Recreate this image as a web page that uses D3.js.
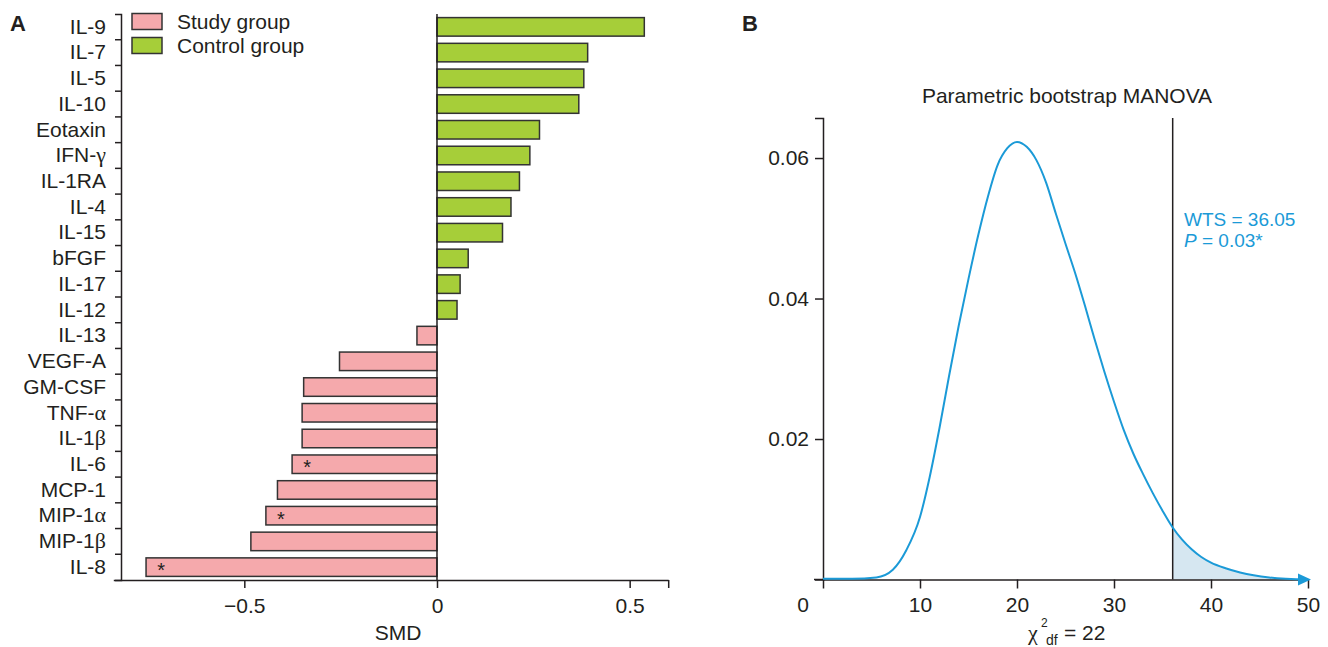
<!DOCTYPE html>
<html>
<head>
<meta charset="utf-8">
<script src="https://cdn.jsdelivr.net/npm/d3@7"></script>
<style>
  body { margin: 0; background: #fff; }
  svg { font-family: "Liberation Sans", Arial, sans-serif; }
  .axis path, .axis line { stroke: #231f20; stroke-width: 1.5; }
  .axis text { font-size: 21px; fill: #231f20; font-family: "Liberation Sans", Arial, sans-serif; }
</style>
</head>
<body>
<svg id="chart" width="1328" height="647"></svg>
<script>
///// Data, panel A (SMD per cytokine)
var categories = ["IL-9", "IL-7", "IL-5", "IL-10", "Eotaxin", "IFN-γ", "IL-1RA", "IL-4", "IL-15", "bFGF",
                  "IL-17", "IL-12", "IL-13", "VEGF-A", "GM-CSF", "TNF-α", "IL-1β", "IL-6", "MCP-1",
                  "MIP-1α", "MIP-1β", "IL-8"];
var smd = [0.538, 0.391, 0.381, 0.368, 0.266, 0.241, 0.214, 0.192, 0.170, 0.081,
           0.060, 0.052, -0.052, -0.253, -0.346, -0.350, -0.350, -0.376, -0.414,
           -0.444, -0.483, -0.755];
var significant = ["IL-6", "MIP-1α", "IL-8"];
var groups = ["Study group", "Control group"];
var smdTicks = [-0.5, 0, 0.5];

///// Data, panel B (bootstrap density of the WTS)
var wtsX = [0, 3, 5.5, 7.2, 8.6, 10, 11, 12, 13, 14, 15, 16, 17, 18, 19, 20,
            21, 22, 23, 24, 25, 26, 27, 28, 29, 30, 31, 32, 33, 34, 35, 36.05,
            37, 38, 39, 40, 41.5, 43, 46, 50];
var density = [0.0001, 0.0001, 0.0003, 0.0014, 0.0042, 0.0089, 0.0146, 0.0215, 0.0290, 0.0362,
               0.0428, 0.0490, 0.0545, 0.0590, 0.0614, 0.0623,
               0.0616, 0.0597, 0.0565, 0.0521, 0.0478, 0.0436, 0.0390, 0.0342, 0.0296, 0.0253,
               0.0213, 0.0179, 0.0150, 0.0123, 0.0098, 0.0074,
               0.0057, 0.0043, 0.0032, 0.0024, 0.0016, 0.0010, 0.0003, 0.0000];
var wts = 36.05;
var chiTicks = [0, 10, 20, 30, 40, 50];
var densityTicks = [0.02, 0.04, 0.06];

var ink = "#231f20";
var pink = "#f5a9ac";
var green = "#a6ce39";
var blue = "#1b9ad7";
var fs = 21;

var svg = d3.select("#chart");

// Greek letters look like the Symbol font in the source, so give them a serif face
function greekText(sel, str) {
    sel.text(null);
    var parts = str.split(/([α-ω])/);
    parts.forEach(function(p) {
        if (!p) return;
        var t = sel.append("tspan").text(p);
        if (/[α-ω]/.test(p)) t.style("font-family", "'Liberation Serif', serif").style("font-size", "22px");
    });
}

///// Panel A
var x = d3.scaleLinear().domain([-0.84, 0.6]).range([113.3, 668.2]);
var y = d3.scaleBand().domain(categories).range([14, 580]).paddingInner(0.28).paddingOuter(0.14);
var axisX = 121;

var gA = svg.append("g");

// bars
gA.selectAll("rect.bar")
    .data(categories)
    .enter().append("rect")
    .attr("class", "bar")
    .attr("x", function(d, i) { return x(Math.min(0, smd[i])); })
    .attr("y", function(d) { return y(d); })
    .attr("width", function(d, i) { return Math.abs(x(smd[i]) - x(0)); })
    .attr("height", y.bandwidth())
    .attr("fill", function(d, i) { return smd[i] < 0 ? pink : green; })
    .attr("stroke", "#333")
    .attr("stroke-width", 1.5);

// asterisks for significant cytokines
gA.selectAll("text.star")
    .data(categories.filter(function(d) { return significant.indexOf(d) >= 0; }))
    .enter().append("text")
    .attr("class", "star")
    .attr("x", function(d) { return x(smd[categories.indexOf(d)]) + 15; })
    .attr("y", function(d) { return y(d) + y.bandwidth() / 2 + 10; })
    .attr("text-anchor", "middle")
    .attr("font-size", 20)
    .attr("fill", ink)
    .text("*");

// zero line
gA.append("line")
    .attr("x1", x(0)).attr("x2", x(0))
    .attr("y1", 14).attr("y2", 580)
    .attr("stroke", ink).attr("stroke-width", 1.5);

// y axis, ticks sit between categories
var yAxis = gA.append("g")
    .attr("class", "axis")
    .attr("transform", "translate(" + axisX + ",0)")
    .call(d3.axisLeft(y).tickSize(0).tickSizeOuter(6).tickPadding(15));
yAxis.selectAll(".tick text").each(function(d) { greekText(d3.select(this), d); });
yAxis.selectAll("line.sep")
    .data(d3.range(1, categories.length))
    .enter().append("line")
    .attr("class", "sep")
    .attr("x1", -6).attr("x2", 0)
    .attr("y1", function(i) { return 14 + i * y.step(); })
    .attr("y2", function(i) { return 14 + i * y.step(); });

// x axis
gA.append("g")
    .attr("class", "axis")
    .attr("transform", "translate(0,580)")
    .call(d3.axisBottom(x)
        .tickValues(smdTicks.concat([0.6]))
        .tickSize(8).tickSizeOuter(0).tickPadding(10)
        .tickFormat(function(d) { return d === 0.6 ? "" : (d === 0 ? "0" : d3.format(".1f")(d)); }));

gA.append("text")
    .attr("x", 398).attr("y", 640)
    .attr("text-anchor", "middle")
    .attr("font-size", fs).attr("fill", ink)
    .text("SMD");

// legend
var legend = gA.selectAll("g.legend")
    .data(groups)
    .enter().append("g")
    .attr("class", "legend")
    .attr("transform", function(d, i) { return "translate(132," + (13.5 + i * 24) + ")"; });
legend.append("rect")
    .attr("width", 30).attr("height", 16)
    .attr("fill", function(d, i) { return i === 0 ? pink : green; })
    .attr("stroke", "#333").attr("stroke-width", 1.5);
legend.append("text")
    .attr("x", 45).attr("y", 15)
    .attr("font-size", fs).attr("fill", ink)
    .text(function(d) { return d; });

svg.append("text").attr("x", 10).attr("y", 31)
    .attr("font-size", 22).attr("font-weight", "bold").attr("fill", ink).text("A");

///// Panel B
var xs = d3.scaleLinear().domain([0, 50]).range([823, 1308]);
var ys = d3.scaleLinear().domain([0, 0.0657]).range([579.5, 118]);
var pts = wtsX.map(function(v, i) { return [v, density[i]]; });

var gB = svg.append("g");

// shaded tail beyond the observed WTS
var tail = pts.filter(function(p) { return p[0] >= wts; });
gB.append("path")
    .datum(tail)
    .attr("fill", "#d6e7f1")
    .attr("d", d3.area()
        .curve(d3.curveMonotoneX)
        .x(function(p) { return xs(p[0]); })
        .y0(ys(0))
        .y1(function(p) { return ys(p[1]); }));

// axes
gB.append("g")
    .attr("class", "axis")
    .attr("transform", "translate(" + xs(0) + ",0)")
    .call(d3.axisLeft(ys).tickValues(densityTicks).tickSize(8).tickSizeOuter(8).tickPadding(6)
        .tickFormat(d3.format(".2f")));

gB.append("g")
    .attr("class", "axis")
    .attr("transform", "translate(0," + ys(0) + ")")
    .call(d3.axisBottom(xs).tickValues(chiTicks).tickSize(9).tickSizeOuter(0).tickPadding(9)
        .tickFormat(function(d) { return d === 0 ? "" : d; }));

gB.append("line")
    .attr("x1", xs(0) - 9).attr("x2", xs(0))
    .attr("y1", ys(0)).attr("y2", ys(0))
    .attr("stroke", ink).attr("stroke-width", 1.5);

gB.append("text")
    .attr("x", xs(0) - 20).attr("y", 612)
    .attr("text-anchor", "middle")
    .attr("font-size", fs).attr("fill", ink)
    .text("0");

// observed statistic
gB.append("line")
    .attr("x1", xs(wts)).attr("x2", xs(wts))
    .attr("y1", ys(0.0657)).attr("y2", ys(0))
    .attr("stroke", ink).attr("stroke-width", 1.5);

// density curve
gB.append("path")
    .datum(pts)
    .attr("fill", "none")
    .attr("stroke", blue)
    .attr("stroke-width", 2)
    .attr("d", d3.line()
        .curve(d3.curveMonotoneX)
        .x(function(p) { return xs(p[0]); })
        .y(function(p) { return ys(p[1]); }));

// arrow head
gB.append("path")
    .attr("fill", blue)
    .attr("d", "M" + (xs(50) - 10) + "," + (ys(0) - 6) + "L" + (xs(50) + 3) + "," + ys(0) +
               "L" + (xs(50) - 10) + "," + (ys(0) + 6) + "Z");

// annotation
gB.append("text")
    .attr("x", 1184).attr("y", 226)
    .attr("font-size", 19).attr("fill", blue)
    .text("WTS = " + wts.toFixed(2));
var pLine = gB.append("text")
    .attr("x", 1184).attr("y", 247)
    .attr("font-size", 19).attr("fill", blue);
pLine.append("tspan").attr("font-style", "italic").text("P");
pLine.append("tspan").text(" = 0.03*");

gB.append("text")
    .attr("x", 1067).attr("y", 103)
    .attr("text-anchor", "middle")
    .attr("font-size", fs).attr("fill", ink)
    .text("Parametric bootstrap MANOVA");

// x axis title: chi^2 df = 22
var chi = gB.append("text").attr("y", 640).attr("fill", ink);
chi.append("tspan").attr("x", 1028).attr("font-size", 22)
    .style("font-family", "'Liberation Serif', serif").text("χ");
chi.append("tspan").attr("x", 1041).attr("y", 627).attr("font-size", 12).text("2");
chi.append("tspan").attr("x", 1046).attr("y", 645).attr("font-size", 14).text("df");
chi.append("tspan").attr("x", 1064).attr("y", 640).attr("font-size", fs).text("= 22");

svg.append("text").attr("x", 742).attr("y", 31)
    .attr("font-size", 22).attr("font-weight", "bold").attr("fill", ink).text("B");
</script>
</body>
</html>
